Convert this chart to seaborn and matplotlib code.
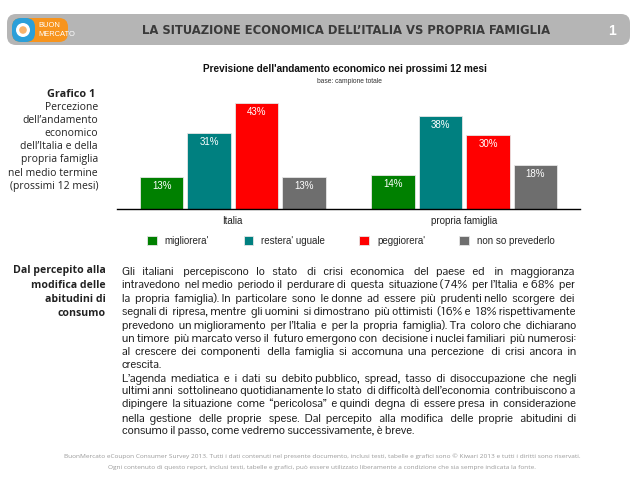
import numpy as np
import pandas as pd
import matplotlib
matplotlib.use("Agg")
import matplotlib.pyplot as plt
import seaborn as sns
from matplotlib import font_manager
from matplotlib.font_manager import FontProperties
from matplotlib.patches import FancyBboxPatch, Circle

# chart data
areas = ["Italia", "propria famiglia"]
answers = ["migliorera'", "restera' uguale", "peggiorera'", "non so prevederlo"]
italia_pct = [13, 31, 43, 13]
famiglia_pct = [14, 38, 30, 18]
bar_colors = ["#008000", "#008080", "#ff0000", "#6e6e6e"]

title = "LA SITUAZIONE ECONOMICA DELL\u2019ITALIA VS PROPRIA FAMIGLIA"
chart_title = "Previsione dell'andamento economico nei prossimi 12 mesi"
chart_sub = "base: campione totale"
side_lines = ["Percezione", "dell\u2019andamento", "economico", "dell\u2019Italia e della",
              "propria famiglia", "nel medio termine", "(prossimi 12 mesi)"]
head_lines = ["Dal percepito alla", "modifica delle", "abitudini di", "consumo"]
body_lines = [
    "Gli italiani percepiscono lo stato di crisi economica del paese ed in maggioranza",
    "intravedono nel medio periodo il perdurare di questa situazione (74% per l\u2019Italia e 68% per",
    "la propria famiglia). In particolare sono le donne ad essere pi\u00f9 prudenti nello scorgere dei",
    "segnali di ripresa, mentre gli uomini si dimostrano pi\u00f9 ottimisti (16% e 18% rispettivamente",
    "prevedono un miglioramento per l\u2019Italia e per la propria famiglia). Tra coloro che dichiarano",
    "un timore pi\u00f9 marcato verso il futuro emergono con decisione i nuclei familiari pi\u00f9 numerosi:",
    "al crescere dei componenti della famiglia si accomuna una percezione di crisi ancora in",
    "crescita.",
    "L\u2019agenda mediatica e i dati su debito pubblico, spread, tasso di disoccupazione che negli",
    "ultimi anni sottolineano quotidianamente lo stato di difficolt\u00e0 dell\u2019economia contribuiscono a",
    "dipingere la situazione come \u201cpericolosa\u201d e quindi degna di essere presa in considerazione",
    "nella gestione delle proprie spese. Dal percepito alla modifica delle proprie abitudini di",
    "consumo il passo, come vedremo successivamente, \u00e8 breve.",
]
body_last = [7, 12]
footer = [
    "BuonMercato eCoupon Consumer Survey 2013. Tutti i dati contenuti nel presente documento, inclusi testi, "
    "tabelle e grafici sono \u00a9 Kiwari 2013 e tutti i diritti sono riservati.",
    "Ogni contenuto di questo report, inclusi testi, tabelle e grafici, pu\u00f2 essere utilizzato liberamente "
    "a condizione che sia sempre indicata la fonte.",
]

sns.set_theme(style="white")
plt.rcParams["font.family"] = ["Liberation Sans", "DejaVu Sans"]


def is_bold(f):
    w = f.weight
    if isinstance(w, str):
        return w in ("bold", "heavy", "black", "demibold", "semibold", "extra bold")
    return w >= 600


def narrow_font(bold):
    # look for any condensed / narrow face that is installed
    for f in font_manager.fontManager.ttflist:
        tag = (f.name + " " + f.fname).lower()
        is_narrow = ("narrow" in tag or "condensed" in tag
                     or str(f.stretch) in ("condensed", "semi-condensed", "extra-condensed"))
        if is_narrow and f.style == "normal" and is_bold(f) == bold and "light" not in tag:
            return FontProperties(fname=f.fname)
    return FontProperties(family="Liberation Sans", weight="bold" if bold else "normal")


title_fp = narrow_font(True)

W, H = 638, 479
fig = plt.figure(figsize=(W / 100, H / 100), dpi=100)
fig.patch.set_facecolor("white")

# background axes in pixel coordinates for the slide decoration
bg = fig.add_axes([0, 0, 1, 1], zorder=0)
bg.set_xlim(0, W)
bg.set_ylim(H, 0)
bg.axis("off")
renderer = fig.canvas.get_renderer()


def fit(t, target):
    w = t.get_window_extent(renderer).width
    t.set_fontsize(t.get_fontsize() * target / w)
    return t


def text_width(fp, s, size):
    t = bg.text(0, 0, s, fontproperties=fp)
    t.set_fontsize(size)
    w = t.get_window_extent(renderer).width
    t.remove()
    return w


def pick_body_font(sample, size, target):
    regular = [f for f in font_manager.fontManager.ttflist
               if f.style == "normal" and not is_bold(f)
               and "light" not in f.fname.lower() and "thin" not in f.fname.lower()
               and "medium" not in f.fname.lower()]
    # Arial Narrow look-alikes first
    for name in ("Liberation Sans Narrow", "Nimbus Sans Narrow", "Arial Narrow"):
        for f in regular:
            if f.name == name:
                fp = FontProperties(fname=f.fname)
                if text_width(fp, sample, size) <= target:
                    return fp
    best, best_d = FontProperties(family="Liberation Sans"), 1e9
    for f in regular:
        low = f.name.lower()
        if "sans" not in low and low not in ("roboto", "lato", "inter", "arimo"):
            continue
        if any(k in low for k in ("serif", "mono", "cjk", "math", "display")):
            continue
        fp = FontProperties(fname=f.fname)
        w = text_width(fp, sample, size)
        if w <= target and target - w < best_d:
            best, best_d = fp, target - w
    return best


def justify(line, fp, size, target):
    # widen the gaps with whole spaces so the line is one text object
    words = line.split(" ")
    n = len(words) - 1
    sw = text_width(fp, "x x", size) - text_width(fp, "xx", size)
    m = int(round((target - text_width(fp, line, size)) / sw))
    if n < 1 or m <= 0:
        return line
    base, rem = divmod(m, n)
    extra = set(int((k + 0.5) * n / rem) for k in range(rem)) if rem else set()
    out = words[0]
    for j, w in enumerate(words[1:]):
        out += " " * (1 + base + (1 if j in extra else 0)) + w
    return out


# header bar
bg.add_patch(FancyBboxPatch((9, 16), 619, 27, boxstyle="round,pad=2,rounding_size=9",
                            fc="#b5b5b5", ec="none"))
bg.add_patch(FancyBboxPatch((12, 18), 56, 24, boxstyle="round,pad=0,rounding_size=9",
                            fc="#f7941d", ec="none"))
bg.add_patch(FancyBboxPatch((12, 18), 23, 24, boxstyle="round,pad=0,rounding_size=9",
                            fc="#2b9fd9", ec="none"))
bg.add_patch(Circle((23, 30), 7, fc="white", ec="none"))
bg.add_patch(Circle((23, 30), 3.8, fc="#f7b36b", ec="none"))
bg.text(38, 25.5, "BUON", color="white", fontsize=5.4, va="center", ha="left")
bg.text(38, 34, "MERCATO", color="white", fontsize=5.4, va="center", ha="left")
t = bg.text(346, 30, title, color="#3a3a3a", fontproperties=title_fp,
            ha="center", va="center")
t.set_fontsize(12)
fit(t, 412)
bg.text(612, 30.5, "1", color="white", fontsize=10, fontweight="bold", ha="center", va="center")

# left captions
bg.text(95, 94, "Grafico 1", fontsize=7.8, fontweight="bold", family="Open Sans",
        color="#222222", ha="right", va="center")
for i, s in enumerate(side_lines):
    bg.text(98, 107 + i * 13.2, s, fontsize=7.5, family="Open Sans", color="#222222",
            ha="right", va="center")
for i, s in enumerate(head_lines):
    bg.text(106, 271 + i * 14, s, fontsize=7.6, fontweight="bold", family="Open Sans",
            color="#222222", ha="right", va="center")

# body text, justified
x0, x1 = 122, 575
body_size = 8.4
body_fp = pick_body_font(body_lines[3], body_size, (x1 - x0) * 0.97)
for i, line in enumerate(body_lines):
    s = line if i in body_last else justify(line, body_fp, body_size, x1 - x0)
    tx = bg.text(x0, 274.5 + i * 13.3, s, fontproperties=body_fp, color="#1a1a1a",
                 va="baseline", ha="left")
    tx.set_fontsize(body_size)

# footer
for i, s in enumerate(footer):
    ft = bg.text(322, 456 + i * 11, s, fontsize=4.3, family="Open Sans", color="#9a9a9a",
                 ha="center", va="center")
    if i == 0:
        fit(ft, 516)
        fsize = ft.get_fontsize()
    else:
        ft.set_fontsize(fsize)

# chart
df = pd.DataFrame({
    "area": np.repeat(areas, len(answers)),
    "risposta": answers * len(areas),
    "pct": italia_pct + famiglia_pct,
})
ax = fig.add_axes([117 / W, 1 - 209 / H, 463 / W, 123 / H], zorder=1)
ax.patch.set_alpha(0)
sns.barplot(data=df, x="area", y="pct", hue="risposta", hue_order=answers,
            palette=bar_colors, saturation=1, width=0.82, gap=0.08, edgecolor="#e6e6e6",
            linewidth=0.6, ax=ax)
ax.set_xlim(-0.5, 1.5)
ax.set_ylim(0, 50)
for cont in ax.containers:
    labels = ax.bar_label(cont, fmt="%d%%", padding=-6.5, color="white", fontsize=7)
    for lb in labels:
        lb.set_va("center")
sns.despine(ax=ax, left=True)
ax.spines["bottom"].set_color("black")
ax.spines["bottom"].set_linewidth(1.0)
ax.set_yticks([])
ax.set_xlabel("")
ax.set_ylabel("")
ax.tick_params(axis="x", length=0, pad=5, labelsize=7, colors="#222222")

handles, labels = ax.get_legend_handles_labels()
ax.legend_.remove()
fig.legend(handles, labels, loc="center", bbox_to_anchor=(351 / W, 1 - 241 / H), ncol=4,
           frameon=False, fontsize=7, handlelength=1.0, handleheight=1.0,
           handletextpad=0.8, columnspacing=3.55)

bg.text(345, 69, chart_title, fontsize=7.2, fontweight="bold", color="#111111",
        ha="center", va="center")
bg.text(349, 81.5, chart_sub, fontsize=4.8, color="#333333", ha="center", va="center")

fig.savefig("out.png", dpi=100, facecolor="white")
